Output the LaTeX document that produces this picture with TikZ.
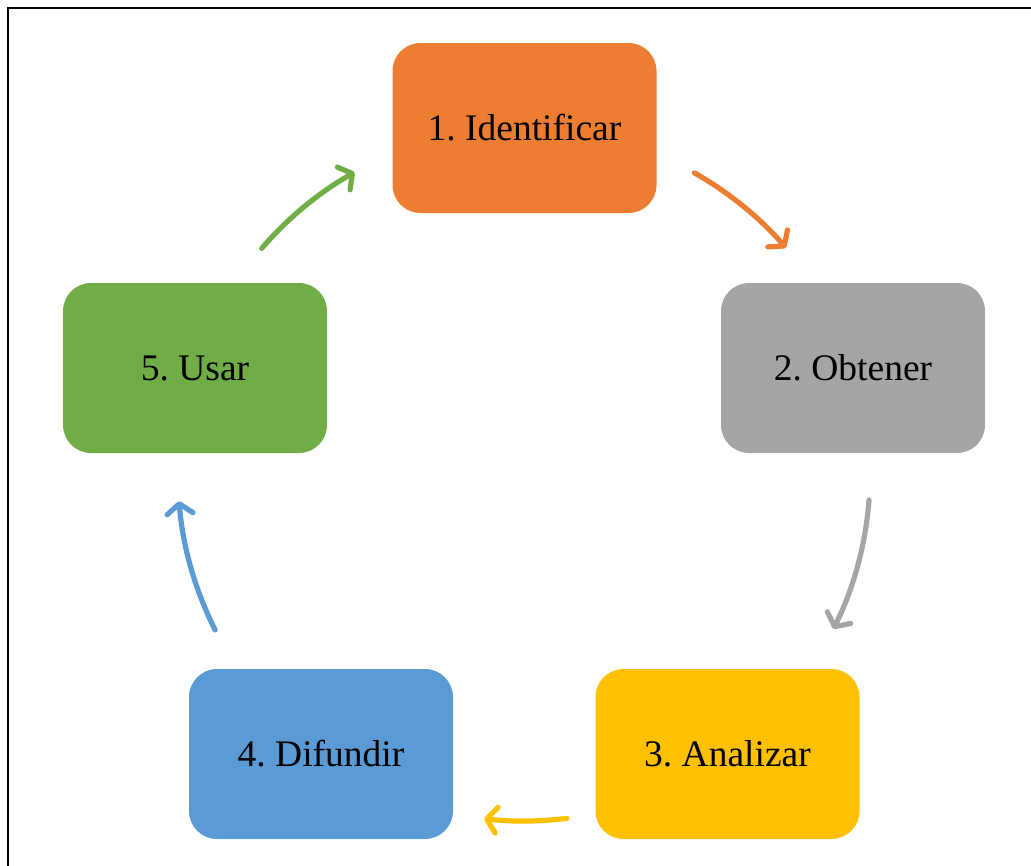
\documentclass[tikz,border=0pt]{standalone}
\usepackage{fontspec}
\setmainfont{Liberation Serif}
\frenchspacing
\usetikzlibrary{arrows.meta}
\definecolor{corange}{HTML}{ED7D31}
\definecolor{cgray}{HTML}{A5A5A5}
\definecolor{cyellow}{HTML}{FFC000}
\definecolor{cblue}{HTML}{5B9BD5}
\definecolor{cgreen}{HTML}{70AD47}
\begin{document}
\begin{tikzpicture}[x=1pt,y=-1pt,
  stepbox/.style={rectangle, rounded corners=28pt, minimum width=264pt, minimum height=170pt,
    inner sep=0pt, text=black, font=\fontsize{37.5}{44}\selectfont},
  arr/.style={line width=5.2pt, line cap=round,
    -{Straight Barb[length=10pt,width=26pt,line cap=round,line join=round]}}]
\useasboundingbox (0,0) rectangle (1031,865);
\draw[line width=2.6pt] (8,866) -- (8,8) -- (1032,8);
\node[stepbox, fill=corange] (n1) at (524.5,128) {1. Identificar};
\node[stepbox, fill=cgray]   (n2) at (853,368)   {2. Obtener};
\node[stepbox, fill=cyellow] (n3) at (727.5,754) {3. Analizar};
\node[stepbox, fill=cblue]   (n4) at (321,754)   {4. Difundir};
\node[stepbox, fill=cgreen]  (n5) at (195,368)   {5. Usar};
\coordinate (C) at (524,474);
\coordinate (a1) at ([shift={(60.5:346pt)}]C);
\coordinate (a2) at ([shift={(-4.3:346pt)}]C);
\coordinate (a3) at ([shift={(-82.9:347pt)}]C);
\coordinate (a4) at ([shift={(-153.2:346pt)}]C);
\coordinate (a5) at ([shift={(139.3:346pt)}]C);
\draw[arr, corange] (a1) arc[start angle=60.5, end angle=40.8, radius=346pt];
\draw[arr, cgray]   (a2) arc[start angle=-4.3, end angle=-26.6, radius=346pt];
\draw[arr, cyellow] (a3) arc[start angle=-82.9, end angle=-96.6, radius=347pt];
\draw[arr, cblue]   (a4) arc[start angle=-153.2, end angle=-175.5, radius=346pt];
\draw[arr, cgreen]  (a5) arc[start angle=139.3, end angle=119.3, radius=346pt];
\end{tikzpicture}
\end{document}
